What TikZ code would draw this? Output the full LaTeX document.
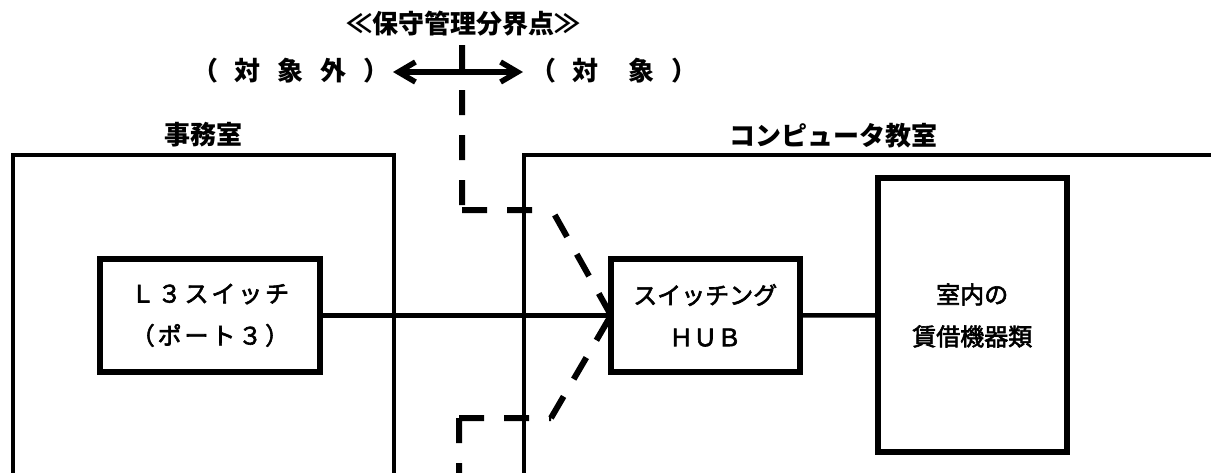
\documentclass[tikz,border=0pt]{standalone}
\usepackage{fontspec}
\newfontfamily\jp{Noto Sans CJK JP}
\newfontfamily\jpm{Noto Sans CJK JP}[FakeBold=2.5]
\newfontfamily\jpms{Noto Sans CJK JP}[FakeBold=2.5,LetterSpace=12]
\usetikzlibrary{arrows.meta}
\begin{document}
\begin{tikzpicture}[x=1pt,y=-1pt,
  room/.style={line width=3.5pt},
  box/.style={draw,line width=6pt,rectangle,inner sep=0pt,outer sep=0pt,align=center,
    font=\jpm\fontsize{24}{42}\selectfont},
  link/.style={line width=4.5pt},
  bound/.style={line width=6pt,dash pattern=on 25pt off 20pt},
  lbl/.style={inner sep=0pt,font=\jp\bfseries\fontsize{26}{30}\selectfont},
  twoway/.style={line width=5.5pt,{Straight Barb[length=17pt,width=20pt]}-{Straight Barb[length=17pt,width=20pt]}}
]
\useasboundingbox[fill=white] (0,0) rectangle (1211,472);
% rooms
\draw[room] (13,480) -- (13,155) -- (394,155) -- (394,480);
\draw[room] (524,480) -- (524,155) -- (1220,155);
\node[lbl] (office) at (203,135) {事務室};
\node[lbl] (lab) at (833,136) {コンピュータ教室};
% boxes
\node[box,minimum width=220pt,minimum height=112.5pt] (l3) at (210,315.3)
  {{\jpms Ｌ３スイッチ}\\{\jpms （ポート３）}};
\node[box,minimum width=188.5pt,minimum height=112.5pt] (hub) at (705.25,315.3)
  {スイッチング\\ＨＵＢ};
\node[box,minimum width=188.5pt,minimum height=274pt] (eq) at (972.25,315.4)
  {室内の\\賃借機器類};
\draw[link] (l3.east) -- (hub.west);
\draw[link] (hub.east) -- (eq.west);
% demarcation
\node[lbl] (title) at (463,24) {≪保守管理分界点≫};
\node[lbl] (outside) at (291,71) {（\hspace{17pt}対\hspace{17pt}象\hspace{17pt}外\hspace{17pt}）};
\node[lbl] (inside) at (614,71) {（\hspace{17pt}対\hspace{30pt}象\hspace{17pt}）};
\coordinate (al) at (393,72);
\coordinate (ar) at (523,72);
\draw[twoway] (al) -- (ar);
\coordinate (t0) at (462,45);
\coordinate (t1) at (462,210);
\coordinate (t2) at (552,210);
\coordinate (b0) at (459,480);
\coordinate (b1) at (459,418);
\coordinate (b2) at (551,418);
\draw[bound] (t0) -- (t1) (t1) -- (t2) (hub.west) -- (t2)
  (b2) -- (hub.west) (b1) -- (b2) (b1) -- (b0);
\end{tikzpicture}
\end{document}
